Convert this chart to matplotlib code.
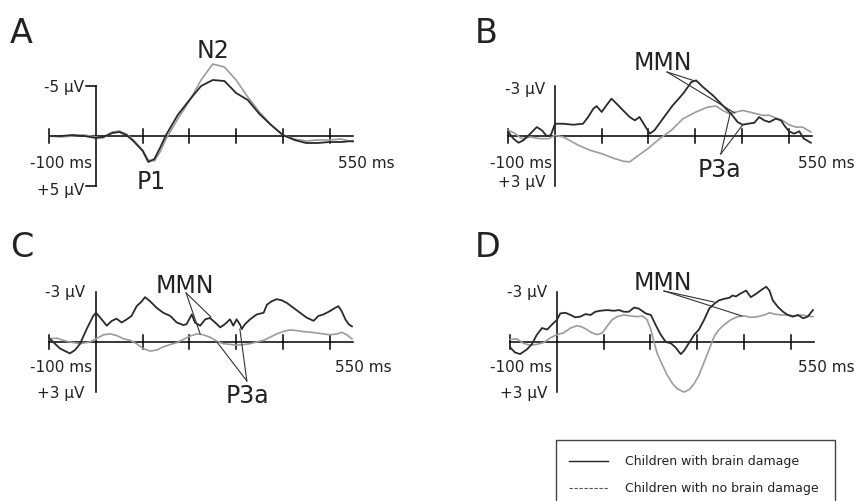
import matplotlib
matplotlib.use('Agg')
import matplotlib.pyplot as plt
from matplotlib.patches import Rectangle

# ERP waveforms (ms, microvolts; negative is plotted upwards)
# A - N2 / P1
a_time = [-100, -75, -50, -25, 0, 15, 35, 50, 65, 80, 100, 112, 125, 137, 150,
          175, 200, 225, 250, 275, 300, 325, 350, 375, 400, 425, 450, 475, 500, 525, 550]
a_damage = [0.0, 0.0, -0.1, 0.0, 0.2, 0.1, -0.3, -0.4, -0.1, 0.5, 1.5, 2.6, 2.3, 1.2, -0.1,
            -2.1, -3.6, -5.0, -5.6, -5.5, -4.3, -3.6, -2.2, -1.1, -0.1, 0.4, 0.7, 0.7, 0.6, 0.6, 0.5]
a_nodamage = [0.0, 0.1, 0.0, -0.1, 0.1, 0.2, -0.4, -0.5, -0.2, 0.4, 1.4, 2.4, 2.5, 1.6, 0.3,
              -1.7, -3.5, -5.6, -7.2, -6.9, -5.6, -3.9, -2.4, -1.1, -0.1, 0.3, 0.5, 0.4, 0.4, 0.3, 0.6]

# B
b_time_d = [-100, -89, -78, -68, -53, -39, -28, -18, -9, 0, 18, 39, 60, 71, 82, 89, 100, 110,
            121, 132, 146, 160, 171, 181, 192, 203, 213, 231, 252, 274, 292, 302, 317, 338,
            359, 377, 391, 402, 413, 427, 437, 448, 459, 473, 484, 491, 501, 512, 523, 533, 548]
b_damage = [-0.24, 0.16, 0.40, 0.26, -0.14, -0.53, -0.34, 0.0, -0.04, -0.73, -0.73, -0.67,
            -0.73, -1.13, -1.62, -1.78, -1.43, -1.82, -2.22, -1.92, -1.52, -1.13, -0.93, -1.13,
            -0.63, -0.14, -0.34, -1.03, -1.82, -2.51, -3.21, -3.31, -2.91, -2.42, -1.82, -1.33,
            -0.83, -0.67, -0.73, -0.79, -1.13, -0.93, -0.83, -1.03, -0.93, -0.63, -0.28, -0.14,
            -0.28, 0.16, 0.40]
b_time_n = [-100, -85, -71, -53, -32, -14, 0, 18, 50, 75, 100, 124, 146, 160, 174, 199, 224,
            249, 274, 302, 327, 345, 359, 373, 388, 402, 416, 430, 445, 459, 473, 487, 501,
            516, 530, 548]
b_nodamage = [-0.34, -0.14, 0.16, 0.06, 0.16, 0.16, -0.04, 0.06, 0.55, 0.85, 1.05, 1.31, 1.50,
              1.54, 1.25, 0.75, 0.16, -0.34, -1.03, -1.43, -1.72, -1.78, -1.52, -1.33, -1.43,
              -1.52, -1.43, -1.33, -1.23, -1.23, -1.07, -0.93, -0.67, -0.53, -0.53, -0.24]

# C
c_time_d = [-100, -88, -77, -66, -56, -45, -34, -20, -6, 0, 12, 23, 34, 44, 55, 66, 76, 87, 98,
            105, 116, 130, 144, 159, 173, 187, 194, 205, 212, 223, 234, 244, 255, 266, 276,
            287, 294, 301, 309, 312, 319, 330, 344, 359, 366, 376, 387, 398, 409, 423, 437,
            451, 466, 476, 487, 501, 512, 519, 526, 534, 541, 548]
c_damage = [-0.23, 0.10, 0.39, 0.54, 0.68, 0.48, 0.10, -0.77, -1.55, -1.74, -1.35, -0.97,
            -1.26, -1.39, -1.16, -1.35, -1.55, -2.13, -2.42, -2.67, -2.42, -2.03, -1.74, -1.55,
            -1.16, -1.01, -1.06, -1.64, -1.16, -0.97, -1.35, -1.43, -1.16, -0.87, -1.06, -1.35,
            -0.97, -1.35, -1.01, -0.77, -1.06, -1.35, -1.64, -1.74, -2.22, -2.42, -2.55, -2.48,
            -2.32, -2.03, -1.74, -1.45, -1.26, -1.55, -1.64, -1.84, -2.03, -2.13, -1.84, -1.35,
            -1.06, -0.93]
c_time_n = [-100, -84, -70, -56, -34, -13, 0, 16, 30, 44, 59, 73, 87, 101, 116, 130, 144, 159,
            173, 187, 201, 216, 230, 244, 259, 273, 287, 301, 316, 330, 344, 359, 373, 387,
            401, 416, 430, 444, 459, 473, 487, 501, 516, 526, 537, 548]
c_nodamage = [-0.19, -0.23, -0.10, 0.0, 0.10, 0.0, -0.19, -0.43, -0.48, -0.39, -0.19, -0.10,
              0.10, 0.39, 0.54, 0.48, 0.29, 0.15, 0.04, -0.15, -0.35, -0.48, -0.43, -0.29,
              -0.04, 0.10, 0.14, 0.19, 0.15, 0.10, 0.0, -0.10, -0.29, -0.48, -0.62, -0.72,
              -0.68, -0.62, -0.58, -0.54, -0.48, -0.43, -0.48, -0.58, -0.43, -0.19]

# D
d_time_d = [-100, -90, -79, -64, -54, -43, -32, -21, -11, 0, 7, 18, 29, 39, 50, 61, 72, 82, 93,
            107, 122, 133, 143, 154, 165, 175, 190, 201, 211, 222, 233, 244, 254, 265, 272,
            283, 294, 304, 315, 326, 337, 347, 358, 369, 376, 383, 394, 405, 415, 426, 437,
            448, 455, 462, 473, 484, 494, 505, 516, 527, 537, 548]
d_damage = [0.33, 0.62, 0.72, 0.43, 0.14, -0.44, -0.83, -0.74, -1.03, -1.32, -1.70, -1.74,
            -1.61, -1.47, -1.51, -1.66, -1.61, -1.80, -1.86, -1.90, -1.86, -1.90, -1.80, -1.80,
            -2.05, -1.99, -1.70, -1.61, -1.03, -0.44, 0.0, 0.08, 0.33, 0.72, 0.52, 0.04, -0.44,
            -0.74, -1.32, -1.99, -2.28, -2.48, -2.57, -2.63, -2.77, -2.71, -2.90, -3.06, -2.67,
            -2.86, -3.09, -3.29, -3.06, -2.48, -2.09, -1.80, -1.61, -1.51, -1.61, -1.41, -1.51,
            -1.90]
d_time_n = [-100, -86, -72, -57, -43, -29, -14, 0, 14, 29, 43, 54, 64, 75, 86, 97, 107, 118,
            129, 143, 158, 172, 183, 193, 201, 208, 215, 226, 236, 247, 258, 272, 283, 294,
            304, 315, 326, 337, 347, 358, 372, 387, 401, 415, 430, 444, 455, 466, 480, 494,
            509, 523, 537, 548]
d_nodamage = [-0.15, -0.19, 0.08, 0.19, 0.14, 0.04, -0.25, -0.44, -0.54, -0.83, -0.97, -0.89,
              -0.74, -0.54, -0.44, -0.54, -0.93, -1.32, -1.51, -1.61, -1.55, -1.51, -1.55,
              -1.32, -0.74, 0.04, 0.72, 1.39, 1.97, 2.46, 2.79, 2.98, 2.84, 2.46, 1.97, 1.20,
              0.43, -0.35, -0.74, -1.03, -1.32, -1.51, -1.55, -1.47, -1.51, -1.61, -1.74,
              -1.66, -1.61, -1.61, -1.55, -1.61, -1.55, -1.51]

W, H = 860, 502
PX_MS = 0.467  # pixels per ms
DARK = '#2a2a2a'
GREY = '#9c9c9c'

fig = plt.figure(figsize=(8.6, 5.02), dpi=100)
fig.patch.set_facecolor('white')


def make_panel(x0, y0, px_uv, lim):
    # x0, y0 = pixel position of (0 ms, 0 uV)
    half = 75
    left = x0 - 100 * PX_MS
    ax = fig.add_axes([left / W, 1 - (y0 + half) / H, 650 * PX_MS / W, 2 * half / H])
    ax.set_xlim(-100, 550)
    ax.set_ylim(half / px_uv, -half / px_uv)
    ax.axis('off')
    ax.plot([-100, 550], [0, 0], color='black', lw=1.1, clip_on=False)
    ax.plot([0, 0], [-lim, lim], color='black', lw=1.1, clip_on=False)
    th = 7 / px_uv
    for t in [-100, 100, 200, 300, 400, 500]:
        ax.plot([t, t], [-th, th], color='black', lw=1.1, clip_on=False)
    return ax


def annot(ax, x0, y0, pts):
    for x1, y1 in pts:
        ax.plot([x0, x1], [y0, y1], color='#333333', lw=0.8, clip_on=False)


lbl = dict(fontsize=11, color='#222222')
big = dict(fontsize=17, color='#222222', ha='center', va='center')

# Panel A
axA = make_panel(96, 137, 10, 5)
axA.plot(a_time, a_nodamage, color=GREY, lw=1.2, clip_on=False)
axA.plot(a_time, a_damage, color=DARK, lw=1.3, clip_on=False)
axA.plot([-21, 0], [-5, -5], color='black', lw=1.1, clip_on=False)
axA.plot([-21, 0], [5, 5], color='black', lw=1.1, clip_on=False)
axA.text(-26, -5, '-5 µV', ha='right', va='center', **lbl)
axA.text(-26, 5.3, '+5 µV', ha='right', va='center', **lbl)
axA.text(-9, 2.6, '-100 ms', ha='right', va='center', **lbl)
axA.text(518, 2.6, '550 ms', ha='left', va='center', **lbl)
axA.text(250, -8.6, 'N2', **big)
axA.text(118, 4.5, 'P1', **big)

# Panel B
axB = make_panel(555, 137, 16.8, 3)
axB.plot(b_time_n, b_nodamage, color=GREY, lw=1.2, clip_on=False)
axB.plot(b_time_d, b_damage, color=DARK, lw=1.3, clip_on=False)
axB.text(-21, -2.8, '-3 µV', ha='right', va='center', **lbl)
axB.text(-21, 2.68, '+3 µV', ha='right', va='center', **lbl)
axB.text(-6, 1.55, '-100 ms', ha='right', va='center', **lbl)
axB.text(520, 1.55, '550 ms', ha='left', va='center', **lbl)
axB.text(231, -4.4, 'MMN', **big)
annot(axB, 240, -3.81, [(300, -3.27), (385, -1.37)])
axB.text(353, 1.96, 'P3a', **big)
annot(axB, 355, 1.07, [(375, -1.33), (402, -0.67)])

# Panel C
axC = make_panel(96, 343, 16.8, 3)
axC.plot(c_time_n, c_nodamage, color=GREY, lw=1.2, clip_on=False)
axC.plot(c_time_d, c_damage, color=DARK, lw=1.3, clip_on=False)
axC.text(-24, -2.98, '-3 µV', ha='right', va='center', **lbl)
axC.text(-24, 2.98, '+3 µV', ha='right', va='center', **lbl)
axC.text(-9, 1.43, '-100 ms', ha='right', va='center', **lbl)
axC.text(512, 1.43, '550 ms', ha='left', va='center', **lbl)
axC.text(190, -3.4, 'MMN', **big)
annot(axC, 193, -2.92, [(223, -0.48), (246, -1.49)])
axC.text(325, 3.15, 'P3a', **big)
annot(axC, 323, 2.32, [(259, 0.0), (308, -0.77)])

# Panel D
axD = make_panel(557, 343, 16.8, 3)
axD.plot(d_time_n, d_nodamage, color=GREY, lw=1.2, clip_on=False)
axD.plot(d_time_d, d_damage, color=DARK, lw=1.3, clip_on=False)
axD.text(-21, -2.98, '-3 µV', ha='right', va='center', **lbl)
axD.text(-21, 2.98, '+3 µV', ha='right', va='center', **lbl)
axD.text(-11, 1.43, '-100 ms', ha='right', va='center', **lbl)
axD.text(516, 1.43, '550 ms', ha='left', va='center', **lbl)
axD.text(227, -3.57, 'MMN', **big)
annot(axD, 229, -3.04, [(336, -2.38), (396, -1.55)])

# panel letters and legend on a pixel-coordinate overlay
ov = fig.add_axes([0, 0, 1, 1], facecolor='none')
ov.set_xlim(0, W)
ov.set_ylim(H, 0)
ov.axis('off')
for letter, x, y in [('A', 10, 43), ('B', 475, 43), ('C', 10, 257), ('D', 475, 257)]:
    ov.text(x, y, letter, fontsize=24, color='#222222', ha='left', va='baseline')

ov.add_patch(Rectangle((556, 441), 279, 80, fill=False, ec='#444444', lw=1.0))
ov.plot([569, 608], [462, 462], color='#222222', lw=1.0)
ov.plot([569, 608], [489, 489], color='#555555', lw=0.8, ls=(0, (3, 1.5)))
ov.text(625, 462, 'Children with brain damage', fontsize=9, color='#222222', va='center')
ov.text(625, 489, 'Children with no brain damage', fontsize=9, color='#222222', va='center')

fig.savefig('out.png', dpi=100, facecolor='white')
